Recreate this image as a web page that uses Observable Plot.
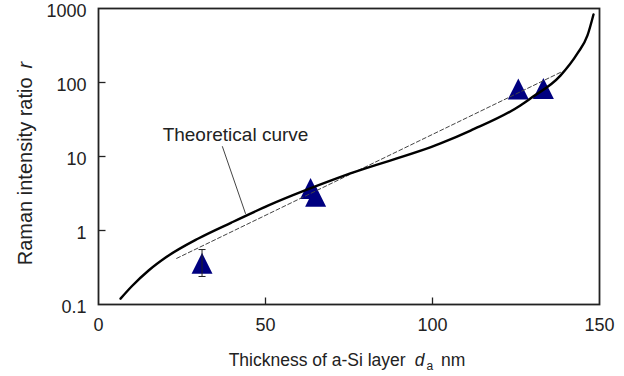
<!DOCTYPE html>
<html>
<head>
<meta charset="utf-8">
<script src="https://cdn.jsdelivr.net/npm/d3@7"></script>
<script src="https://cdn.jsdelivr.net/npm/@observablehq/plot@0.6"></script>
<style>
  html, body { margin: 0; padding: 0; background: #fff; }
  #chart { width: 624px; height: 376px; }
</style>
</head>
<body>
<div id="chart"></div>
<script>
// ---- data ----
const xTicks = [0, 50, 100, 150];
const yTicks = [0.1, 1, 10, 100, 1000];

// theoretical curve
const curveX = [6.6, 9.9, 15.0, 20.1, 29.9, 39.8, 50.9, 75.4, 102.4, 111.4, 126.3, 129.3, 138.3, 143.4, 146.4, 148.2];
const curveR = [0.12, 0.175, 0.288, 0.431, 0.78, 1.28, 2.18, 5.9, 15.0, 22.4, 48.9, 60.8, 124, 247, 432, 830];

// measured points
const ptX = [31.0, 63.5, 65.0, 125.7, 133.2];
const ptR = [0.36, 3.7, 2.9, 82, 83];

// error bar (first point)
const errX = [31.0];
const errLo = [0.239];
const errHi = [0.553];

// dashed fit line
const fitX = [23.4, 138.9];
const fitR = [0.42, 141];

// annotation
const labelText = ["Theoretical curve"];
const labelX = [19.2];
const labelR = [16.0];
const leadX = [37.1, 44.0];
const leadR = [13.6, 1.70];

// ---- build ----
const curve = curveX.map((x, i) => ({x, r: curveR[i]}));
const pts = ptX.map((x, i) => ({x, r: ptR[i]}));
const errs = errX.map((x, i) => ({x, lo: errLo[i], hi: errHi[i]}));
const fit = fitX.map((x, i) => ({x, r: fitR[i]}));
const lead = leadX.map((x, i) => ({x, r: leadR[i]}));
const label = labelText.map((t, i) => ({t, x: labelX[i], r: labelR[i]}));

const FONT = "Liberation Sans, Arial, Helvetica, sans-serif";

const triSym = {draw(ctx) { const h = 10.5; ctx.moveTo(0, -h); ctx.lineTo(h, h); ctx.lineTo(-h, h); ctx.closePath(); }};
const capSym = {draw(ctx) { ctx.moveTo(-3.5, 0); ctx.lineTo(3.5, 0); }};
const tickRight = {draw(ctx) { ctx.moveTo(0, 0); ctx.lineTo(7, 0); }};
const tickUp = {draw(ctx) { ctx.moveTo(0, 0); ctx.lineTo(0, -7); }};

const capData = errs.flatMap(e => [{x: e.x, r: e.lo}, {x: e.x, r: e.hi}]);

const svg = Plot.plot({
  width: 624,
  height: 376,
  marginLeft: 98,
  marginRight: 25,
  marginTop: 8,
  marginBottom: 72,
  style: {fontFamily: FONT, color: "#222", background: "#fff"},
  x: {domain: [0, 150]},
  y: {type: "log", domain: [0.1, 1000]},
  marks: [
    Plot.dot(yTicks.slice(1, -1), {x: () => 0, y: d => d, symbol: tickRight, fill: "none", stroke: "#222", strokeWidth: 1.3}),
    Plot.dot(xTicks.slice(1, -1), {x: d => d, y: () => 0.1, symbol: tickUp, fill: "none", stroke: "#222", strokeWidth: 1.3}),
    Plot.dot(pts, {x: "x", y: "r", symbol: triSym, fill: "#000080", stroke: "none"}),
    Plot.ruleX(errs, {x: "x", y1: "lo", y2: "hi", stroke: "#222", strokeWidth: 1}),
    Plot.dot(capData, {x: "x", y: "r", symbol: capSym, fill: "none", stroke: "#222", strokeWidth: 1}),
    Plot.line(fit, {x: "x", y: "r", stroke: "#444", strokeWidth: 1, strokeDasharray: "4,2.5"}),
    Plot.line(curve, {x: "x", y: "r", stroke: "#000", strokeWidth: 2.4, curve: "monotone-x"}),
    Plot.line(lead, {x: "x", y: "r", stroke: "#444", strokeWidth: 1}),
    Plot.text(label, {x: "x", y: "r", text: "t", textAnchor: "start", lineAnchor: "bottom", fontSize: 19, fill: "#222"}),
    Plot.frame({stroke: "#222", strokeWidth: 1.8}),
    Plot.axisY({ticks: yTicks, tickFormat: d => String(d), tickSize: 0, tickPadding: 12, dy: 3, fontSize: 18, label: null}),
    Plot.axisX({ticks: xTicks, tickFormat: d => String(d), tickSize: 0, tickPadding: 14, fontSize: 18, label: null})
  ]
});

const s = d3.select(svg);
// y title
const yt = s.append("text")
  .attr("transform", "translate(32,163.5) rotate(-90)")
  .attr("text-anchor", "middle")
  .attr("font-family", FONT)
  .attr("font-size", 20)
  .attr("fill", "#222");
yt.append("tspan").text("Raman intensity ratio");
yt.append("tspan").attr("dx", 9).attr("font-style", "italic").text("r");

// x title
const xt = s.append("text")
  .attr("x", 347).attr("y", 366)
  .attr("text-anchor", "middle")
  .attr("font-family", FONT)
  .attr("font-size", 17.5)
  .attr("fill", "#222");
xt.append("tspan").text("Thickness of a-Si layer");
xt.append("tspan").attr("dx", 9).attr("font-style", "italic").text("d");
xt.append("tspan").attr("dx", 2).attr("dy", 4).attr("font-size", 12).text("a");
xt.append("tspan").attr("dx", 8).attr("dy", -4).text("nm");

document.getElementById("chart").appendChild(svg);
</script>
</body>
</html>
